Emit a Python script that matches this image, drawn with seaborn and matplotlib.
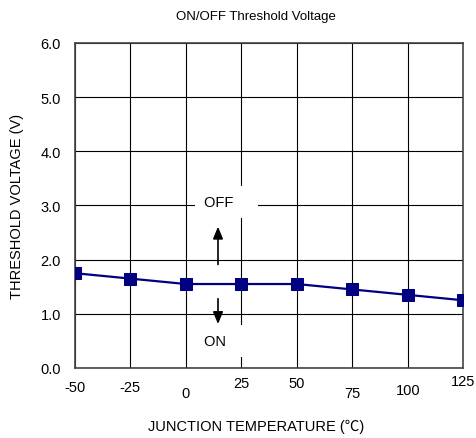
import matplotlib
matplotlib.use("Agg")
import matplotlib.pyplot as plt
import seaborn as sns
import pandas as pd

# data
temps = [-50, -25, 0, 25, 50, 75, 100, 125]
thresh_v = [1.75, 1.65, 1.55, 1.55, 1.55, 1.45, 1.35, 1.25]
y_ticks = [0.0, 1.0, 2.0, 3.0, 4.0, 5.0, 6.0]
x_pads = [9, 9, 13, 6, 6, 13, 11, 4]

sns.set_theme(style="white")
plt.rcParams['font.family'] = ['Liberation Sans', 'Noto Sans CJK SC', 'DejaVu Sans']
plt.rcParams['text.color'] = 'black'
plt.rcParams['axes.labelcolor'] = 'black'
plt.rcParams['xtick.color'] = 'black'
plt.rcParams['ytick.color'] = 'black'

df = pd.DataFrame({"temp": temps, "v": thresh_v})

fig = plt.figure(figsize=(4.77, 4.39), dpi=100)
ax = fig.add_axes([0.157, 0.1595, 0.814, 0.7403])

ax.set_axisbelow(True)
ax.grid(True, color='black', linewidth=0.8, zorder=0.5)

sns.lineplot(data=df, x="temp", y="v", ax=ax, color='#000080', linewidth=1.6,
             marker='s', markersize=8.5, markeredgecolor='#000080', zorder=5)

ax.set_xlim(-50, 125)
ax.set_ylim(0, 6)
ax.set_xticks(temps)
ax.set_xticklabels([str(t) for t in temps], fontsize=10.5)
ax.set_yticks(y_ticks)
ax.set_yticklabels([f"{v:.1f}" for v in y_ticks], fontsize=10.5)
ax.tick_params(axis='both', length=0)
ax.tick_params(axis='y', pad=10)
for tk, p in zip(ax.xaxis.get_major_ticks(), x_pads):
    tk.set_pad(p)

for s in ax.spines.values():
    s.set_color('#444444')
    s.set_linewidth(1.2)

ax.set_xlabel("")
ax.set_ylabel("THRESHOLD VOLTAGE (V)", fontsize=10.5, labelpad=12)
fig.text(0.537, 0.027, "JUNCTION TEMPERATURE (\u2103)", ha='center', va='center', fontsize=10.5)
fig.text(0.537, 0.961, "ON/OFF Threshold Voltage", ha='center', va='center', fontsize=9.5)

# OFF / ON labels with white boxes hiding the grid
box = dict(boxstyle='square,pad=0.6', facecolor='white', edgecolor='none')
ax.text(8, 3.06, "OFF    ", ha='left', va='center', fontsize=10.5, bbox=box, zorder=3)
ax.text(8, 0.5, "ON      ", ha='left', va='center', fontsize=10.5, bbox=box, zorder=3)

arrow = dict(arrowstyle='-|>,head_width=0.25,head_length=0.6', color='black', lw=1.2)
ax.annotate("", xy=(14.5, 2.66), xytext=(14.5, 1.86), arrowprops=arrow, zorder=4)
ax.annotate("", xy=(14.5, 0.76), xytext=(14.5, 1.33), arrowprops=arrow, zorder=4)

fig.savefig("out.png", dpi=100)
